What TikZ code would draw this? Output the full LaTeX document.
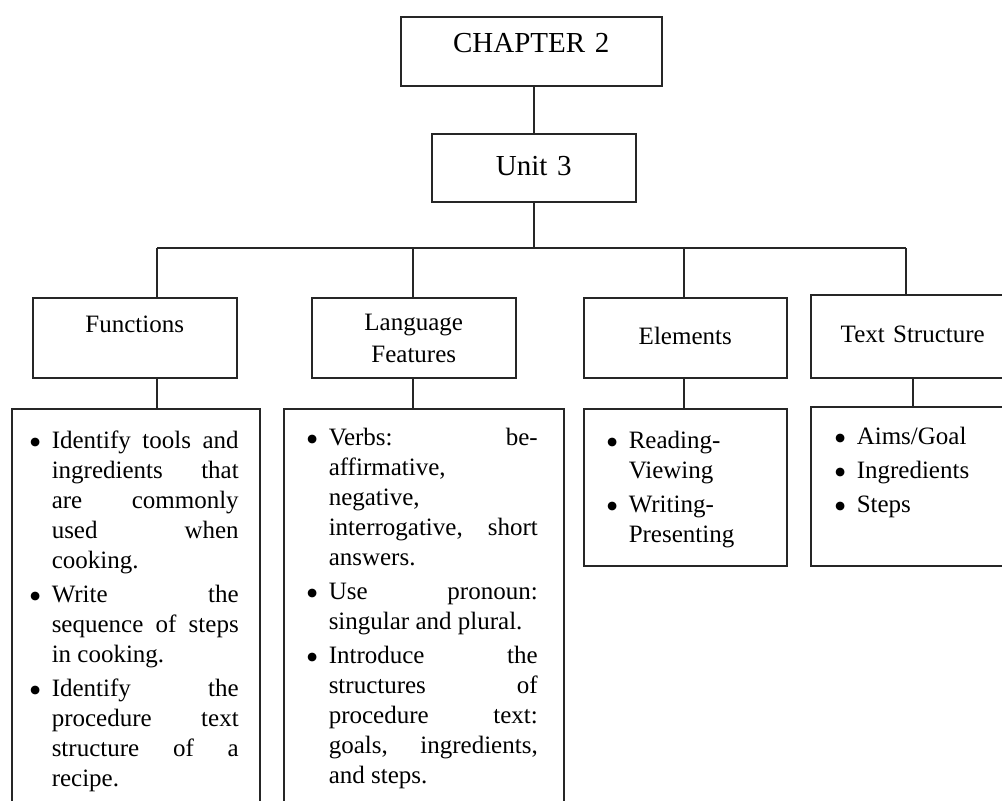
\documentclass[tikz,border=0pt]{standalone}
\usepackage{fontspec}
\setmainfont{Liberation Serif}
\newcommand{\bitem}[1]{\par\hangindent=19pt\hangafter=1\noindent\makebox[19pt][l]{\hspace{-4pt}\raisebox{-0.24em}{\scalebox{1.45}{\textbullet}}}#1\par}
\newcommand{\listset}{\tolerance=10000\hyphenpenalty=10000\setlength{\parskip}{4pt}}
\tikzset{
  box/.style={draw=black!85, line width=1.5pt, anchor=north west, inner sep=0pt,
    align=center, font=\fontsize{25}{32}\selectfont},
  listbox/.style={draw=black!85, line width=1.5pt, anchor=north west, inner ysep=0pt,
    align=justify, font=\fontsize{25}{30}\selectfont},
  link/.style={draw=black!85, line width=1.5pt}
}
\begin{document}
\begin{tikzpicture}[x=1pt,y=-1pt]
    \clip (0,0) rectangle (1002,801);

    % top of the tree
    \node[box, font=\fontsize{29}{34}\selectfont, text width=261, text height=36, text depth=33] (chapter) at (400,16) {CHAPTER 2};
    \node[box, font=\fontsize{29}{34}\selectfont, text width=204, text height=42, text depth=26] (unit) at (431,133) {Unit 3};

    % the four headings
    \node[box, text width=204, text height=35, text depth=45] (func) at (32,297) {Functions};
    \node[box, text width=204, text height=33, text depth=47] (lang) at (311,297) {Language\\Features};
    \node[box, text width=203, text height=47, text depth=33] (elem) at (583,297) {Elements};
    \node[box, text width=204, text height=48, text depth=35] (tstruct) at (810,294) {Text Structure};

    % the lists under them
    \node[listbox, inner xsep=21, text width=206, text height=6, text depth=453] (funclist) at (11,408) {\listset
      \bitem{Identify tools and\linebreak ingredients that\linebreak are commonly\linebreak used when\linebreak cooking.}
      \bitem{Write the\linebreak sequence of steps\linebreak in cooking.}
      \bitem{Identify the\linebreak procedure text\linebreak structure of a\linebreak recipe.}};
    \node[listbox, inner xsep=26, text width=228, text height=3, text depth=455] (langlist) at (283,408) {\listset
      \bitem{Verbs: be-\linebreak affirmative,\newline negative,\newline interrogative, short\linebreak answers.}
      \bitem{Use pronoun:\linebreak singular and plural.}
      \bitem{Introduce the\linebreak structures of\linebreak procedure text:\linebreak goals, ingredients,\linebreak and steps.}};
    \node[listbox, inner xsep=26, text width=151, text height=6, text depth=151] (elemlist) at (583,408) {\listset
      \bitem{Reading-\newline Viewing}
      \bitem{Writing-\newline Presenting}};
    \node[listbox, inner xsep=27, text height=4, text width=150, text depth=155] (tslist) at (810,406) {\listset
      \bitem{Aims/Goal}
      \bitem{Ingredients}
      \bitem{Steps}};

    % taps on the bus line
    \coordinate (tapF) at (157,248);
    \coordinate (tapL) at (413,248);
    \coordinate (tapE) at (684,248);
    \coordinate (tapT) at (906,248);

    \draw[link] (unit.north |- chapter.south) -- (unit.north);
    \draw[link] (unit.south) -- (unit.south |- tapF);
    \draw[link] (tapF) -- (tapT);
    \foreach \t/\n in {tapF/func, tapL/lang, tapE/elem, tapT/tstruct} {
        \draw[link] (\t) -- (\t |- \n.north);
    }
    \foreach \t/\n/\l in {tapF/func/funclist, tapL/lang/langlist, tapE/elem/elemlist} {
        \draw[link] (\t |- \n.south) -- (\t |- \l.north);
    }
    \draw[link] (tstruct.south) -- (tstruct.south |- tslist.north);
\end{tikzpicture}
\end{document}
